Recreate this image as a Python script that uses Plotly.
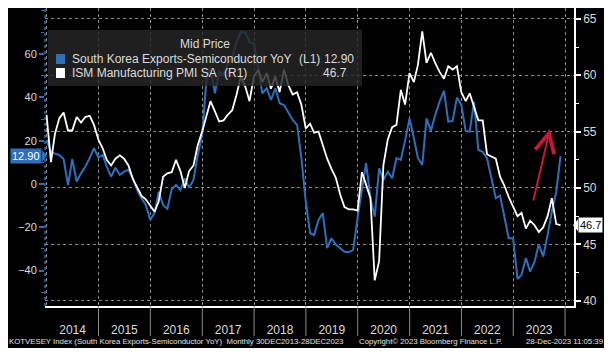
import pandas as pd
import plotly.graph_objects as go

# ---------------- data (monthly, Dec 2013 .. Nov 2023) ----------------
start_month = "2013-12-31"
korea_semis_yoy = [
    20.3,
    14.9, 14.0, 13.4, 11.5, -0.5, 11.5, 1.1, 4.9, 8.0, 12.0, 16.5, 12.2,
    13.4, 8.0, 3.4, 7.5, 4.2, 5.7, 6.5, 2.6, -2.8, -6.6, -9.7, -16.6,
    -13.5, -3.6, -9.7, -11.5, -2.5, -0.5, -2.8, 2.6, -1.7, 1.8, 13.4, 22.6,
    48.8, 53.4, 41.9, 51.9, 50.3, 55.7, 58.1, 65.7, 70.1, 70.1, 65.4, 65.0,
    53.4, 41.9, 44.2, 38.8, 44.2, 37.3, 36.5, 32.7, 29.6, 27.3, 12.0, -8.0,
    -22.8, -23.6, -16.6, -13.5, -29.7, -25.1, -28.0, -29.7, -31.3, -31.6, -30.5, -15.8,
    -1.7, 9.6, -6.6, -15.1, 7.2, 1.8, 5.7, 2.6, 11.9, 11.1, 20.0, 30.3,
    21.1, 12.0, 8.8, 30.3, 24.5, 31.9, 38.0, 43.0, 28.8, 29.1, 39.9, 36.5,
    24.5, 24.2, 38.0, 15.7, 14.9, 11.9, 2.6, -6.6, -5.4, -15.8, -25.1, -25.1,
    -43.9, -42.0, -34.3, -40.5, -35.9, -27.9, -33.6, -23.6, -12.8, -3.6, 12.9,
]
ism_pmi = [
    56.5,
    52.3, 54.8, 56.2, 56.7, 55.1, 55.1, 56.3, 55.8, 56.3, 56.4, 55.6, 54.3,
    53.5, 52.5, 52.0, 52.6, 52.9, 52.6, 52.0, 50.8, 50.1, 49.3, 49.0, 48.5,
    47.9, 48.8, 51.0, 51.3, 51.4, 52.5, 51.5, 50.0, 51.5, 52.0, 53.8, 55.0,
    56.3, 57.7, 56.8, 55.9, 56.0, 56.5, 56.9, 58.3, 59.9, 59.0, 57.7, 59.9,
    60.5, 59.4, 60.2, 58.8, 59.9, 58.5, 60.5, 59.1, 58.3, 58.5, 57.4, 55.3,
    55.7, 54.9, 55.0, 53.8, 52.6, 51.7, 50.9, 49.4, 48.3, 48.1, 48.1, 48.0,
    51.4, 50.3, 49.1, 41.8, 43.5, 52.0, 54.3, 55.4, 55.6, 58.7, 57.4, 60.2,
    59.4, 60.9, 63.9, 61.1, 62.0, 61.1, 60.3, 59.7, 60.8, 60.5, 60.8, 58.5,
    57.7, 58.4, 57.2, 56.0, 56.0, 53.0, 52.8, 52.6, 51.0, 50.2, 49.2, 48.4,
    47.5, 47.8, 46.4, 47.1, 46.7, 46.1, 46.5, 47.5, 49.1, 46.8, 46.7,
]
name_korea = "South Korea Exports-Semiconductor YoY"
name_ism = "ISM Manufacturing PMI SA"
last_korea = "12.90"
last_ism = "46.7"
years = list(range(2015, 2025))
left_ticks = [-40, -20, 0, 20, 40, 60]
right_ticks = [40, 45, 50, 55, 60, 65]

dates = pd.date_range(start_month, periods=len(ism_pmi), freq=pd.offsets.MonthEnd())

# ---------------- styling ----------------
BLUE = "#2f6fba"
FONT = "Liberation Sans"
OFF = 8                      # page body margin
FW, FH = 598, 340            # figure size (black panel)
L, R, T, B = 45, 574, 8, 306  # plot area in page pixels
PW, PH = R - L, B - T
Y1_RANGE = [-56.4, 81.3]
Y2_RANGE = [39.53, 65.97]


def px(x):
    return (x - L) / PW


def py(y):
    return (B - y) / PH


fig = go.Figure()
fig.add_trace(go.Scatter(x=dates, y=korea_semis_yoy, mode="lines", name=name_korea,
                         line=dict(color=BLUE, width=2), yaxis="y"))
fig.add_trace(go.Scatter(x=dates, y=ism_pmi, mode="lines", name=name_ism,
                         line=dict(color="white", width=1.8), yaxis="y2"))

# pointer half-heights in data units (6 px)
h1 = 6 * (Y1_RANGE[1] - Y1_RANGE[0]) / PH
h2 = 6 * (Y2_RANGE[1] - Y2_RANGE[0]) / PH
k_last = korea_semis_yoy[-1]
i_last = ism_pmi[-1]

shapes = [
    # dotted blue left axis
    dict(type="line", xref="paper", yref="paper", x0=0, x1=0, y0=0, y1=1,
         line=dict(color=BLUE, width=1.5, dash="dot"), layer="above"),
    # legend box
    dict(type="rect", xref="paper", yref="paper", x0=px(48), x1=px(362), y0=py(86), y1=py(30),
         fillcolor="rgba(38,38,38,0.82)", line=dict(width=0), layer="above"),
    dict(type="rect", xref="paper", yref="paper", x0=px(56), x1=px(65), y0=py(64), y1=py(54),
         fillcolor=BLUE, line=dict(width=0), layer="above"),
    dict(type="rect", xref="paper", yref="paper", x0=px(56), x1=px(65), y0=py(78), y1=py(68),
         fillcolor="white", line=dict(width=0), layer="above"),
    # tag pointers
    dict(type="path", xref="paper", yref="y",
         path=f"M {px(42)},{k_last + h1} L {px(47)},{k_last} L {px(42)},{k_last - h1} Z",
         fillcolor=BLUE, line=dict(width=0), layer="above"),
    dict(type="path", xref="paper", yref="y2",
         path=f"M {px(578)},{i_last + h2} L {px(573)},{i_last} L {px(578)},{i_last - h2} Z",
         fillcolor="white", line=dict(width=0), layer="above"),
]
for yr in years:
    shapes.append(dict(type="line", xref="x", yref="paper", x0=f"{yr}-01-01", x1=f"{yr}-01-01",
                       y0=0, y1=py(336), line=dict(color="#8c8c8c", width=1)))

txt = "#dcdcdc"
annotations = [
    dict(text="Mid Price", x=px(205), y=py(44), xref="paper", yref="paper",
         showarrow=False, xanchor="center", yanchor="middle", font=dict(size=12, color=txt)),
    dict(text=name_korea, x=px(70), y=py(59), xref="paper", yref="paper",
         showarrow=False, xanchor="left", yanchor="middle", font=dict(size=12, color=txt)),
    dict(text="(L1)", x=px(297), y=py(59), xref="paper", yref="paper",
         showarrow=False, xanchor="left", yanchor="middle", font=dict(size=12, color=txt)),
    dict(text=last_korea, x=px(356), y=py(59), xref="paper", yref="paper",
         showarrow=False, xanchor="right", yanchor="middle", font=dict(size=12, color=txt)),
    dict(text=name_ism, x=px(70), y=py(73), xref="paper", yref="paper",
         showarrow=False, xanchor="left", yanchor="middle", font=dict(size=12, color=txt)),
    dict(text="(R1)", x=px(222), y=py(73), xref="paper", yref="paper",
         showarrow=False, xanchor="left", yanchor="middle", font=dict(size=12, color=txt)),
    dict(text=last_ism, x=px(349), y=py(73), xref="paper", yref="paper",
         showarrow=False, xanchor="right", yanchor="middle", font=dict(size=12, color=txt)),
    # last value tags
    dict(text=last_korea, x=px(42), y=k_last, xref="paper", yref="y",
         showarrow=False, xanchor="right", yanchor="middle", bgcolor=BLUE,
         font=dict(size=11, color="white"), borderpad=1),
    dict(text=last_ism, x=px(578), y=i_last, xref="paper", yref="y2",
         showarrow=False, xanchor="left", yanchor="middle", bgcolor="white",
         font=dict(size=11, color="black"), borderpad=1),
    # red arrow
    dict(text="", x=px(550), y=py(129), xref="paper", yref="paper", showarrow=True,
         ax=-17, ay=73, arrowhead=5, arrowsize=1.9, arrowwidth=2, arrowcolor="#c8173a"),
    # footer
    dict(text="KOTVESEY Index (South Korea Exports-Semiconductor YoY)  Monthly 30DEC2013-28DEC2023",
         x=px(7), y=py(341), xref="paper", yref="paper", showarrow=False, xanchor="left",
         yanchor="middle", font=dict(size=7.8, color="#e2e2e2")),
    dict(text="Copyright\u00a9 2023 Bloomberg Finance L.P.", x=px(357), y=py(341), xref="paper",
         yref="paper", showarrow=False, xanchor="left", yanchor="middle",
         font=dict(size=7.8, color="#e2e2e2")),
    dict(text="28-Dec-2023 11:05:39", x=px(605), y=py(341), xref="paper", yref="paper",
         showarrow=False, xanchor="right", yanchor="middle", font=dict(size=7.8, color="#e2e2e2")),
]

fig.update_layout(
    width=FW, height=FH,
    margin=dict(l=L - OFF, r=FW - (R - OFF), t=T - OFF, b=FH - (B - OFF)),
    paper_bgcolor="black", plot_bgcolor="black",
    font=dict(family=FONT, color=txt),
    showlegend=False,
    shapes=shapes,
    annotations=annotations,
    xaxis=dict(
        type="date", range=["2013-12-20", "2024-03-04"],
        tick0="2014-01-01", dtick="M12", tickformat="%Y", ticklabelmode="period",
        showgrid=True, gridcolor="#8a8a8a", griddash="dot", gridwidth=1,
        showline=True, linecolor="white", linewidth=1.5,
        ticks="", tickfont=dict(size=12, color=txt), ticklabelstandoff=12,
        zeroline=False,
    ),
    yaxis=dict(
        range=Y1_RANGE, tickvals=left_ticks, showgrid=False, zeroline=False,
        ticks="outside", ticklen=5, tickwidth=2, tickcolor=BLUE,
        minor=dict(dtick=10, tick0=0, ticks="outside", ticklen=3, tickcolor=BLUE, tickwidth=1),
        tickfont=dict(size=11, color=txt), showline=False,
    ),
    yaxis2=dict(
        range=Y2_RANGE, tickvals=right_ticks, overlaying="y", side="right",
        showgrid=True, gridcolor="#8a8a8a", griddash="dot", gridwidth=1, zeroline=False,
        showline=True, linecolor="white", linewidth=1.5,
        ticks="outside", ticklen=5, tickwidth=2, tickcolor="white",
        minor=dict(dtick=2.5, tick0=40, ticks="outside", ticklen=3, tickcolor="white", tickwidth=1),
        tickfont=dict(size=12, color=txt),
    ),
)

fig.write_html("out.html")
